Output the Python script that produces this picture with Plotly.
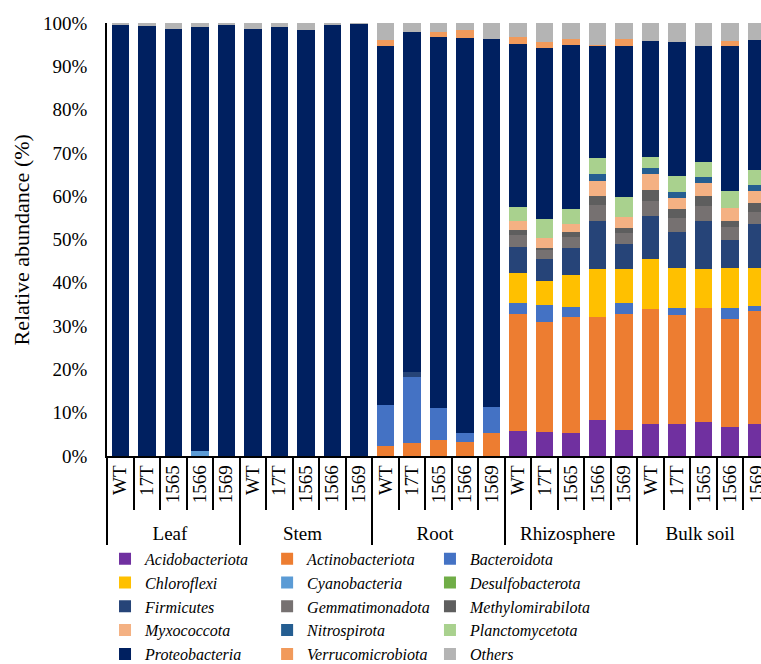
import plotly.graph_objects as go

# Sample layout: five compartments, five genotypes each
tissues = ["Leaf", "Stem", "Root", "Rhizosphere", "Bulk soil"]
genotypes = ["WT", "17T", "1565", "1566", "1569"]

phyla = [
    "Acidobacteriota", "Actinobacteriota", "Bacteroidota",
    "Chloroflexi", "Cyanobacteria", "Desulfobacterota",
    "Firmicutes", "Gemmatimonadota", "Methylomirabilota",
    "Myxococcota", "Nitrospirota", "Planctomycetota",
    "Proteobacteria", "Verrucomicrobiota", "Others",
]

colors = [
    "#7030A0", "#ED7D31", "#4472C4",
    "#FFC000", "#5B9BD5", "#70AD47",
    "#264478", "#767171", "#5E5E5E",
    "#F4B183", "#255E91", "#A9D18E",
    "#002060", "#F19A5B", "#B4B4B4",
]

# y-axis ticks (percent)
y_ticks = [0, 10, 20, 30, 40, 50, 60, 70, 80, 90, 100]
y_tick_labels = ["0%", "10%", "20%", "30%", "40%", "50%", "60%", "70%", "80%", "90%", "100%"]
y_title = "Relative abundance (%)"

# Relative abundance (%) per phylum, ordered Leaf..Bulk soil x WT..1569
zero5 = [0, 0, 0, 0, 0]
acidobacteriota = zero5 + zero5 + zero5 + [5.7, 5.5, 5.4, 8.2, 6.1] + [7.5, 7.5, 7.8, 6.8, 7.4]
actinobacteriota = zero5 + zero5 + [2.3, 3.1, 3.6, 3.3, 5.3] + [27.2, 25.5, 26.7, 23.9, 26.6] + [26.5, 25.1, 26.3, 24.8, 26.0]
bacteroidota = zero5 + zero5 + [9.5, 15.2, 7.5, 2.1, 6.0] + [2.4, 3.8, 2.3, 0, 2.7] + [0, 1.5, 0, 2.6, 1.2]
chloroflexi = zero5 + zero5 + zero5 + [6.9, 5.7, 7.5, 11.2, 7.8] + [11.4, 9.4, 9.2, 9.3, 8.9]
cyanobacteria = [0, 0, 0, 1.2, 0] + zero5 + zero5 + zero5 + zero5
desulfobacterota = zero5 + zero5 + zero5 + zero5 + zero5
firmicutes = zero5 + zero5 + [0, 1.1, 0, 0, 0] + [6.0, 5.0, 6.1, 11.0, 5.7] + [10.1, 8.3, 11.0, 6.3, 10.0]
gemmatimonadota = zero5 + zero5 + zero5 + [2.9, 2.2, 2.6, 3.7, 2.5] + [3.5, 3.2, 3.4, 3.1, 2.9]
methylomirabilota = zero5 + zero5 + zero5 + [1.0, 0.3, 1.2, 2.1, 1.2] + [2.4, 2.0, 2.3, 1.4, 2.1]
myxococcota = zero5 + zero5 + zero5 + [2.2, 2.3, 1.8, 3.4, 2.7] + [3.7, 2.5, 3.1, 2.9, 2.8]
nitrospirota = zero5 + zero5 + zero5 + [0, 0, 0, 1.6, 0] + [1.3, 1.4, 1.3, 0, 1.3]
planctomycetota = zero5 + zero5 + zero5 + [3.3, 4.4, 3.5, 3.8, 4.6] + [2.6, 3.7, 3.4, 4.1, 3.4]
proteobacteria = ([99.5, 99.4, 98.6, 97.9, 99.6] + [98.6, 99.0, 98.4, 99.7, 99.9]
                  + [82.8, 78.6, 85.6, 91.1, 85.0] + [37.6, 39.6, 37.9, 25.8, 34.9]
                  + [26.8, 30.9, 26.9, 33.5, 30.0])
verrucomicrobiota = zero5 + zero5 + [1.4, 0, 1.2, 1.9, 0] + [1.5, 1.4, 1.4, 0.2, 1.6] + [0, 0, 0, 1.0, 0]
others = ([0.5, 0.6, 1.4, 0.9, 0.4] + [1.4, 1.0, 1.6, 0.3, 0.1]
          + [4.0, 2.1, 2.1, 1.5, 3.8] + [3.3, 4.3, 3.6, 5.1, 3.6]
          + [4.2, 4.5, 5.3, 4.2, 4.0])

series = [
    acidobacteriota, actinobacteriota, bacteroidota,
    chloroflexi, cyanobacteria, desulfobacterota,
    firmicutes, gemmatimonadota, methylomirabilota,
    myxococcota, nitrospirota, planctomycetota,
    proteobacteria, verrucomicrobiota, others,
]

x = [[t for t in tissues for _ in genotypes], genotypes * len(tissues)]

SERIF = "Liberation Serif, Times New Roman, DejaVu Serif, serif"
legend_ids = ["legend", "legend2", "legend3"]

fig = go.Figure()
for i, (name, color, vals) in enumerate(zip(phyla, colors, series)):
    fig.add_bar(
        x=x, y=vals, name=name,
        marker=dict(color=color, line=dict(width=0)),
        legend=legend_ids[i % 3],
    )

# Three single-column legends laid out side by side under the axis
legend_style = dict(
    orientation="v", xref="container", yref="container",
    xanchor="left", yanchor="top", y=0.184,
    font=dict(family=SERIF, size=16, style="italic", color="black"),
    bgcolor="rgba(0,0,0,0)", borderwidth=0, traceorder="normal",
)

fig.update_layout(
    barmode="stack",
    bargap=0.34,
    width=761,
    height=664,
    margin=dict(l=107, r=0, t=23, b=208, pad=0, autoexpand=False),
    plot_bgcolor="white",
    paper_bgcolor="white",
    font=dict(family=SERIF, size=18, color="black"),
    legend=dict(legend_style, x=0.138),
    legend2=dict(legend_style, x=0.351),
    legend3=dict(legend_style, x=0.565),
)

# Vertical axis title placed in the left margin
fig.add_annotation(
    text=y_title, textangle=-90,
    xref="paper", yref="paper", x=-0.13, y=0.5,
    xanchor="center", yanchor="middle", showarrow=False,
    font=dict(family=SERIF, size=22, color="black"),
)

fig.update_xaxes(
    type="multicategory",
    range=[-0.5, 24.17],
    automargin=False,
    showline=True, linecolor="black", linewidth=1.5,
    ticks="outside", ticklen=52, tickcolor="black", tickwidth=1.5,
    tickangle=-90,
    tickfont=dict(family=SERIF, size=19, color="black"),
    showdividers=True, dividercolor="black", dividerwidth=1.5,
    showgrid=False, zeroline=False,
)

fig.update_yaxes(
    range=[0, 100],
    automargin=False,
    tickmode="array",
    tickvals=y_ticks,
    ticktext=y_tick_labels,
    showline=True, linecolor="black", linewidth=1.5,
    showgrid=False, zeroline=False, ticks="",
    ticklabelstandoff=14,
    tickfont=dict(family=SERIF, size=19, color="black"),
)

fig.write_html("out.html")
